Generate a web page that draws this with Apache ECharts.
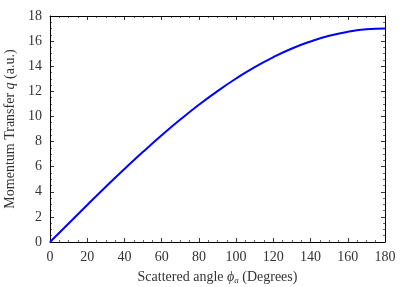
<!DOCTYPE html>
<html><head><meta charset="utf-8">
<script src="https://cdn.jsdelivr.net/npm/echarts@6/dist/echarts.min.js"></script>
<style>html,body{margin:0;padding:0;background:#fff}#c{width:410px;height:287px}</style>
</head><body><div id="c"></div>
<script>
const angles = [0,10,20,30,40,50,60,70,80,90,100,110,120,130,140,150,160,170,180];
const transfer = [0,1.48,2.95,4.40,5.81,7.18,8.5,9.75,10.93,12.02,13.02,13.93,14.72,15.41,15.97,16.42,16.74,16.94,17.0];
const xTicks = [0,20,40,60,80,100,120,140,160,180];
const yTicks = [0,2,4,6,8,10,12,14,16,18];

const font = 'Liberation Serif';
const txt = '#333';
const chart = echarts.init(document.getElementById('c'), null, {renderer:'canvas'});
const axisCommon = {
  axisLine:{show:true,onZero:false,lineStyle:{color:'#000',width:1}},
  axisTick:{show:true,inside:true,length:4,lineStyle:{color:'#000',width:0.8}},
  minorTick:{show:true,splitNumber:4,length:2,lineStyle:{color:'#000',width:0.6}},
  splitLine:{show:false}
};
const rich = {
  i:{fontFamily:font,fontStyle:'italic',fontSize:14,color:txt},
  sub:{fontFamily:font,fontStyle:'italic',fontSize:9,color:txt,verticalAlign:'bottom',padding:[7,0,0,0]}
};
chart.setOption({
  animation:false,
  grid:{left:50,top:16,width:335,height:226,containLabel:false,outerBoundsMode:'none'},
  xAxis:[
    Object.assign({type:'value',min:0,max:180,interval:20,position:'bottom',
      name:'Scattered angle {i|ϕ}{sub|a} (Degrees)',nameLocation:'middle',nameGap:27,
      nameTextStyle:{fontFamily:font,fontSize:14,color:txt,rich:rich},
      axisLabel:{fontFamily:font,fontSize:14,color:txt,margin:8,
        formatter:v=>xTicks.includes(v)?String(v):''}},axisCommon),
    Object.assign({type:'value',min:0,max:180,interval:20,position:'top',axisLabel:{show:false}},axisCommon)
  ],
  yAxis:[
    Object.assign({type:'value',min:0,max:18,interval:2,position:'left',
      name:'Momentum Transfer {i|q} (a.u.)',nameLocation:'middle',nameGap:33,
      nameTextStyle:{fontFamily:font,fontSize:14,color:txt,rich:rich},
      axisLabel:{fontFamily:font,fontSize:14,color:txt,margin:8,
        formatter:v=>yTicks.includes(v)?String(v):''}},axisCommon),
    Object.assign({type:'value',min:0,max:18,interval:2,position:'right',axisLabel:{show:false}},axisCommon)
  ],
  series:[{type:'line',data:angles.map((a,i)=>[a,transfer[i]]),smooth:true,showSymbol:false,
    lineStyle:{color:'#0000ff',width:2},xAxisIndex:0,yAxisIndex:0}]
});
</script></body></html>
